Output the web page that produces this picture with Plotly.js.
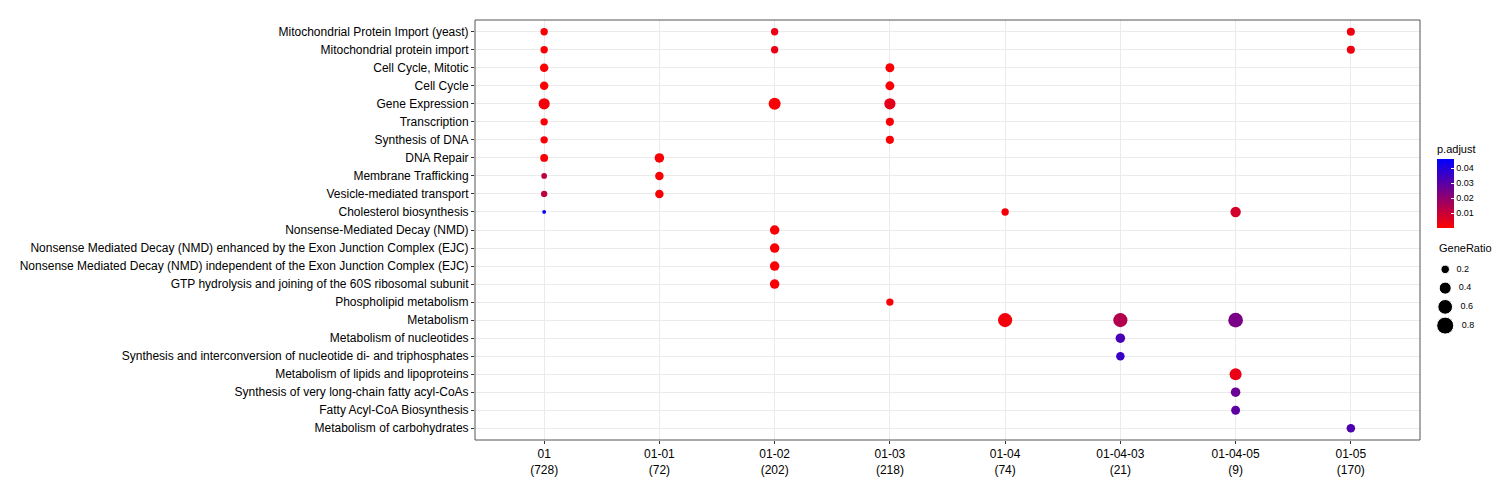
<!DOCTYPE html>
<html><head><meta charset="utf-8">
<script src="https://cdn.plot.ly/plotly-3.0.1.min.js"></script>
<style>body{margin:0}</style></head><body>
<div id="c" style="width:1500px;height:480px"></div>
<script>
const clusters = ["01","01-01","01-02","01-03","01-04","01-04-03","01-04-05","01-05"];
const clusterCounts = [728,72,202,218,74,21,9,170];
const terms = ["Mitochondrial Protein Import (yeast)","Mitochondrial protein import","Cell Cycle, Mitotic","Cell Cycle","Gene Expression","Transcription","Synthesis of DNA","DNA Repair","Membrane Trafficking","Vesicle-mediated transport","Cholesterol biosynthesis","Nonsense-Mediated Decay (NMD)","Nonsense Mediated Decay (NMD) enhanced by the Exon Junction Complex (EJC)","Nonsense Mediated Decay (NMD) independent of the Exon Junction Complex (EJC)","GTP hydrolysis and joining of the 60S ribosomal subunit","Phospholipid metabolism","Metabolism","Metabolism of nucleotides","Synthesis and interconversion of nucleotide di- and triphosphates","Metabolism of lipids and lipoproteins","Synthesis of very long-chain fatty acyl-CoAs","Fatty Acyl-CoA Biosynthesis","Metabolism of carbohydrates"];
// points: cluster, term, geneRatio, p.adjust
const ptCluster = ["01","01-02","01-05","01","01-02","01-05","01","01-03","01","01-03","01","01-02","01-03","01","01-03","01","01-03","01","01-01","01","01-01","01","01-01","01","01-04","01-04-05","01-02","01-02","01-02","01-02","01-03","01-04","01-04-03","01-04-05","01-04-03","01-04-03","01-04-05","01-04-05","01-04-05","01-05"];
const ptTerm = [0,0,0,1,1,1,2,2,3,3,4,4,4,5,5,6,6,7,7,8,8,9,9,10,10,10,11,12,13,14,15,16,16,16,17,18,19,20,21,22];
const ptRatio = [0.15,0.15,0.18,0.15,0.15,0.18,0.2,0.22,0.2,0.22,0.35,0.4,0.35,0.15,0.18,0.15,0.18,0.17,0.25,0.09,0.2,0.11,0.2,0.04,0.15,0.3,0.25,0.25,0.25,0.25,0.15,0.55,0.55,0.6,0.25,0.2,0.4,0.25,0.22,0.2];
const ptP = [0.001,0.004,0.003,0.001,0.004,0.003,0.001,0.001,0.001,0.001,0.002,0.001,0.005,0.001,0.001,0.001,0.001,0.001,0.001,0.012,0.001,0.012,0.001,0.046,0.002,0.008,0.001,0.001,0.001,0.001,0.001,0.002,0.014,0.024,0.033,0.036,0.004,0.027,0.029,0.032];
const legendRatios = [0.2,0.4,0.6,0.8];

const sizeOf = r => 19*Math.sqrt(r);
const ticktext = clusters.map((c,i)=>c+"<br>("+clusterCounts[i]+")");
const scale = [[0,"#FF0000"],[1,"#0000FF"]];
const traces = [{
  type:"scatter", mode:"markers",
  x: ptCluster.map(c=>clusters.indexOf(c)), y: ptTerm,
  marker:{size:ptRatio.map(sizeOf), color:ptP, colorscale:scale, cmin:0.0001, cmax:0.046, opacity:1, line:{width:0},
    colorbar:{x:(1437-475)/1020, xanchor:"left", xpad:0, ypad:0, y:(440-142)/420, yanchor:"top",
      len:86/420, lenmode:"fraction", thickness:17, outlinewidth:0, ticks:"inside", ticklen:3, tickcolor:"#fff",
      tickvals:[0.01,0.02,0.03,0.04], tickfont:{size:9,color:"#000"},
      title:{text:"p.adjust", font:{size:11,color:"#000"}, side:"top"}}},
  showlegend:false, hoverinfo:"skip"
},{
  type:"scatter", mode:"markers+text", xaxis:"x2", yaxis:"y2",
  x: legendRatios.map(()=>0.17), y: legendRatios.map((r,i)=>i),
  text: legendRatios.map(r=>"  "+r.toFixed(1)), textposition:"middle right", textfont:{size:9,color:"#000"},
  marker:{size:legendRatios.map(sizeOf), color:"#000", opacity:1}, showlegend:false, cliponaxis:false, hoverinfo:"skip"
}];
const ax = {showline:false, zeroline:false, ticks:"outside", ticklen:3, tickcolor:"#333", gridcolor:"#ebebeb", gridwidth:1, tickfont:{size:12,color:"#000",family:"Liberation Sans, Arial"}};
const layout = {
  margin:{l:475,r:5,t:20,b:40, autoexpand:false}, paper_bgcolor:"#fff", plot_bgcolor:"#fff",
  font:{family:"Liberation Sans, Arial, sans-serif"},
  xaxis:Object.assign({}, ax, {domain:[0,945/1020], range:[-0.6,7.6], tickvals:clusters.map((c,i)=>i), ticktext:ticktext}),
  yaxis:Object.assign({}, ax, {range:[22.65,-0.65], tickvals:terms.map((t,i)=>i), ticktext:terms}),
  xaxis2:{domain:[(1435-475)/1020,1], range:[0,1], visible:false},
  yaxis2:{domain:[(440-335)/420,(440-260)/420], range:[3.5,-0.5], visible:false},
  shapes:[{type:"rect", xref:"paper", yref:"paper", x0:0, x1:945/1020, y0:0, y1:1, line:{color:"#555",width:1}}],
  annotations:[{xref:"paper", yref:"paper", x:(1437-475)/1020, y:(440-256)/420, xanchor:"left", yanchor:"bottom", text:"GeneRatio", showarrow:false, font:{size:11,color:"#000"}}]
};
Plotly.newPlot("c", traces, layout, {displayModeBar:false, staticPlot:true});
</script></body></html>
